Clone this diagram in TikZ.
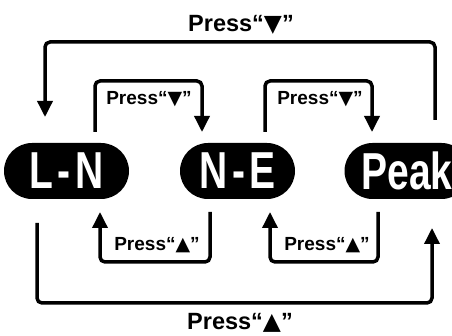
\documentclass[tikz,border=0pt]{standalone}
\usepackage{fontspec}
\setmainfont{Liberation Sans}
\newfontfamily\pillfont[FakeStretch=0.75]{Liberation Sans}
\newfontfamily\symfont{DejaVu Sans}
\newcommand{\dnkey}{{\symfont ▼}}
\newcommand{\upkey}{{\symfont ▲}}
\usetikzlibrary{arrows.meta}

\begin{document}
\begin{tikzpicture} [x=1pt,y=-1pt,
            mode/.style={fill=black,text=white,rounded corners=28pt,minimum height=56pt,inner sep=0pt,
                         font=\pillfont\bfseries\fontsize{52}{52}\selectfont},
            press/.style={line width=3.5pt,rounded corners=5pt,-{Triangle[length=16pt,width=15pt]}},
            lbl/.style={anchor=base,font=\bfseries\fontsize{19}{19}\selectfont},
            biglbl/.style={anchor=base,font=\bfseries\fontsize{23.5}{23.5}\selectfont}]
\useasboundingbox (0,0) rectangle (452,336);
\clip (0,0) rectangle (452,336);

%modes
\node (ln) at (66.5,171) [mode,minimum width=125pt] {L\kern5pt-\kern5pt N};
\node (ne) at (237.5,171) [mode,minimum width=115pt] {N\kern4pt-\kern4pt E};
\node (pk) at (407,171) [mode,minimum width=125pt] {Peak};

%Peak -> L-N
\coordinate (pk-up) at (435,120);
\coordinate (ln-in) at (45,117);
\draw [press] (pk-up) |- (240,42) -| (ln-in);
\node (dn-pk) at (241,32) [biglbl] {Press“\dnkey”};

%L-N -> N-E
\coordinate (ln-up) at (95,132);
\coordinate (ne-in) at (202,132);
\draw [press] (ln-up) |- (150,81) -| (ne-in);
\node (dn-ln) at (149,105) [lbl] {Press“\dnkey”};

%N-E -> Peak
\coordinate (ne-up) at (265,132);
\coordinate (pk-in) at (372,132);
\draw [press] (ne-up) |- (320,81) -| (pk-in);
\node (dn-ne) at (320,105) [lbl] {Press“\dnkey”};

%N-E -> L-N
\coordinate (ne-dn) at (210,212);
\coordinate (ln-back) at (100,212);
\draw [press] (ne-dn) |- (157,262) -| (ln-back);
\node (up-ne) at (157,251) [lbl] {Press“\upkey”};

%Peak -> N-E
\coordinate (pk-dn) at (378,212);
\coordinate (ne-back) at (270,212);
\draw [press] (pk-dn) |- (324,262) -| (ne-back);
\node (up-pk) at (327,251) [lbl] {Press“\upkey”};

%L-N -> Peak
\coordinate (ln-dn) at (37,223);
\coordinate (pk-back) at (432,228);
\draw [press] (ln-dn) |- (240,303) -| (pk-back);
\node (up-ln) at (240,329) [biglbl] {Press“\upkey”};

\end{tikzpicture}
\end{document}
